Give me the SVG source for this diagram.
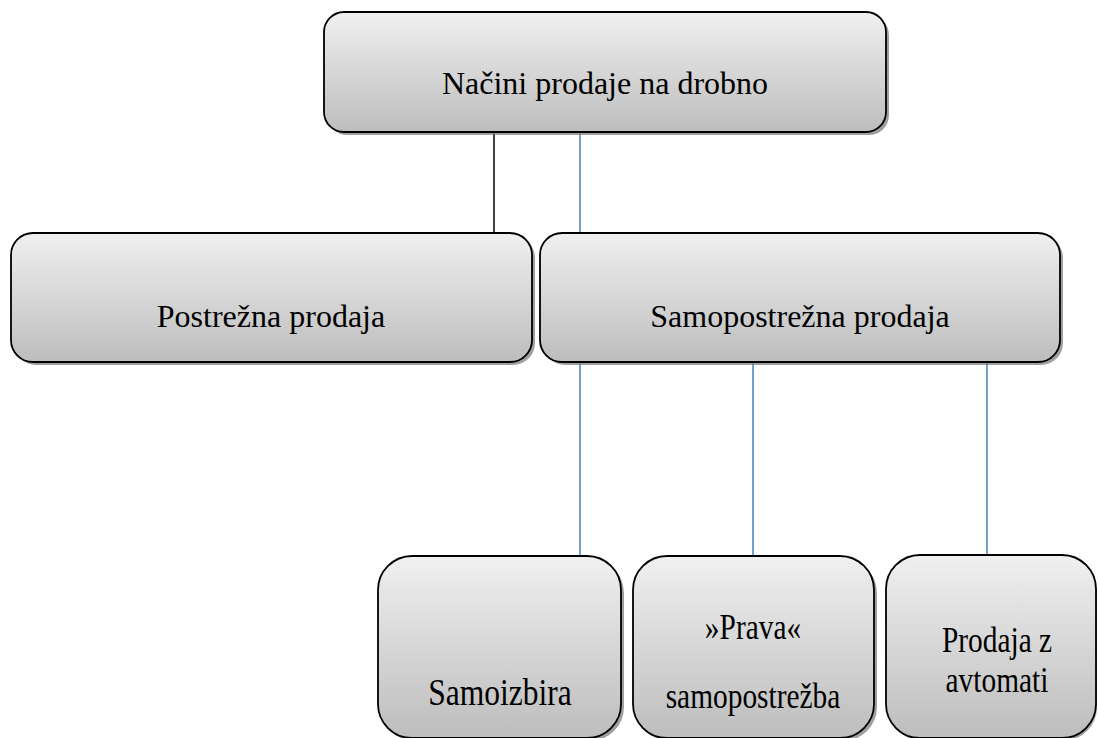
<svg xmlns="http://www.w3.org/2000/svg" width="1098" height="738" viewBox="0 0 1098 738">
<style>
.box{fill:url(#g);stroke:#000;stroke-width:1.8}
.sh{fill:#7f7f7f;opacity:0.75}
.t{font-family:"Liberation Serif","Tinos","Times New Roman","DejaVu Serif",serif;font-size:32px;fill:#000;text-anchor:middle}
.tb{font-family:"Liberation Serif","Tinos","Times New Roman","DejaVu Serif",serif;font-size:35px;fill:#000;text-anchor:middle}
.tc{font-family:"Liberation Serif","Tinos","Times New Roman","DejaVu Serif",serif;font-size:38px;fill:#000;text-anchor:middle}
.cb{stroke:#000;stroke-width:1.5;fill:none}
.cl{stroke:#4a7ebb;stroke-width:1.5;fill:none}
</style>
<defs>
<linearGradient id="g" x1="0" y1="0" x2="0" y2="1">
<stop offset="0" stop-color="#f0f0f0"/>
<stop offset="1" stop-color="#bdbdbd"/>
</linearGradient>
</defs>
<rect width="1098" height="738" fill="#fff"/>
<g id="connectors">
<line class="cb" x1="494" y1="132" x2="494" y2="233"/>
<line class="cl" x1="580" y1="132" x2="580" y2="233"/>
<line class="cl" x1="580" y1="362" x2="580" y2="556"/>
<line class="cl" x1="753" y1="362" x2="753" y2="556"/>
<line class="cl" x1="987" y1="362" x2="987" y2="555"/>
</g>
<g id="n-top">
<rect class="sh" x="327" y="15" width="562" height="120" rx="20"/>
<rect class="box" x="324" y="12" width="562" height="120" rx="20"/>
<text class="t" x="605" y="94">Načini prodaje na drobno</text>
</g>
<g id="n-postrezna">
<rect class="sh" x="14" y="236" width="521" height="129" rx="22"/>
<rect class="box" x="11" y="233" width="521" height="129" rx="22"/>
<text class="t" x="271" y="327">Postrežna prodaja</text>
</g>
<g id="n-samopostrezna">
<rect class="sh" x="543" y="236" width="520" height="129" rx="22"/>
<rect class="box" x="540" y="233" width="520" height="129" rx="22"/>
<text class="t" x="800" y="327">Samopostrežna prodaja</text>
</g>
<g id="n-samoizbira">
<rect class="sh" x="381" y="559" width="243" height="182" rx="34"/>
<rect class="box" x="378" y="556" width="243" height="182" rx="34"/>
<text class="tc" transform="translate(500 705) scale(0.83 1)">Samoizbira</text>
</g>
<g id="n-prava">
<rect class="sh" x="636" y="559" width="241" height="182" rx="34"/>
<rect class="box" x="633" y="556" width="241" height="182" rx="34"/>
<text class="tb" transform="translate(753 639) scale(0.84 1)">»Prava«</text>
<text class="tb" transform="translate(753 708) scale(0.84 1)">samopostrežba</text>
</g>
<g id="n-avtomati">
<rect class="sh" x="889" y="558" width="208" height="183" rx="34"/>
<rect class="box" x="886" y="555" width="210" height="183" rx="34"/>
<text class="tb" transform="translate(997 652) scale(0.84 1)">Prodaja z</text>
<text class="tb" transform="translate(997 692) scale(0.84 1)">avtomati</text>
</g>
</svg>
